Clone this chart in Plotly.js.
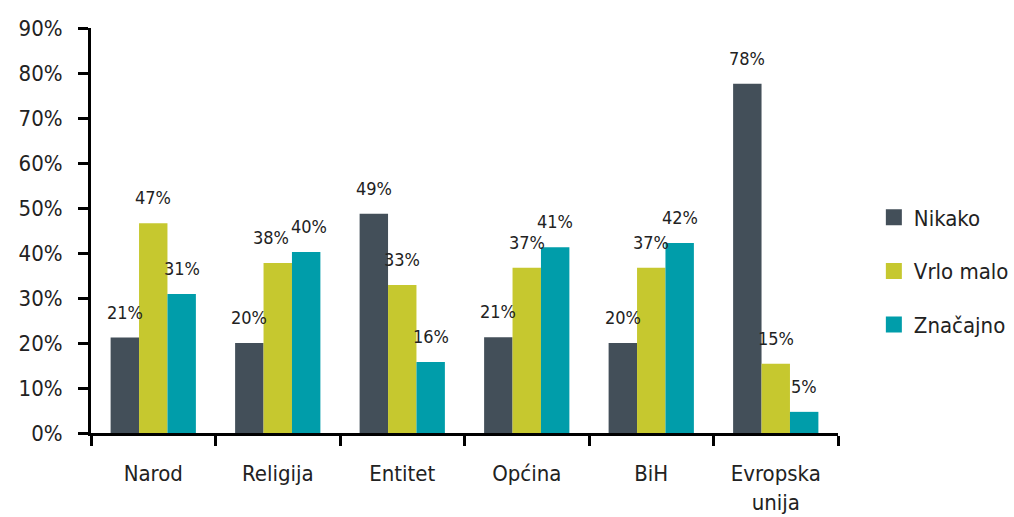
<!DOCTYPE html>
<html>
<head>
<meta charset="utf-8">
<script src="https://cdn.plot.ly/plotly-3.0.1.min.js"></script>
<style>
  html, body { margin: 0; padding: 0; background: #fff; }
  #chart { width: 1014px; height: 517px; }
</style>
</head>
<body>
<div id="chart"></div>
<script>
const categories = ["Narod", "Religija", "Entitet", "Općina", "BiH", "Evropska<br>unija"];
const seriesNames = ["Nikako", "Vrlo malo", "Značajno"];
const nikako = [21.2, 20.0, 48.7, 21.3, 20.0, 77.6];
const vrloMalo = [46.6, 37.8, 32.9, 36.7, 36.7, 15.4];
const znacajno = [30.9, 40.2, 15.8, 41.3, 42.2, 4.7];
const yTickVals = [0, 10, 20, 30, 40, 50, 60, 70, 80, 90];

const colors = ["#434F59", "#C6C82F", "#009DAA"];
const seriesValues = [nikako, vrloMalo, znacajno];
const FONT = '"Liberation Sans Narrow", "DejaVu Sans Condensed", "Roboto", sans-serif';

const margin = { l: 91, r: 176, t: 28, b: 84, autoexpand: false };
const plotW = 1014 - margin.l - margin.r;
const plotH = 517 - margin.t - margin.b;
const bargap = 0.315;
const barPx = plotW / categories.length * (1 - bargap) / seriesValues.length;
const pxPerUnit = plotH / 90;
const LABEL_H = 24;

const traces = [];
seriesValues.forEach((vals, i) => {
  traces.push({
    type: "bar",
    x: categories,
    y: vals,
    name: seriesNames[i],
    marker: { color: colors[i] },
    showlegend: false,
    hoverinfo: "skip"
  });
});
// legend entries with square swatches
seriesValues.forEach((vals, i) => {
  traces.push({
    type: "scatter",
    mode: "markers",
    x: [null],
    y: [null],
    name: seriesNames[i],
    legendgroup: "g" + i,
    marker: { color: colors[i], symbol: "square", size: 22 },
    showlegend: true
  });
});

// label placement: nudge neighbouring labels apart when they would collide
const annotations = [];
categories.forEach((c, j) => {
  const shifts = seriesValues.map(() => 0);
  for (let i = 0; i < seriesValues.length - 1; i++) {
    const dy = Math.abs(seriesValues[i][j] - seriesValues[i + 1][j]) * pxPerUnit;
    if (dy < LABEL_H - 10) { shifts[i] -= 7; shifts[i + 1] += 3; }
  }
  seriesValues.forEach((vals, i) => {
    const v = vals[j];
    annotations.push({
      x: c,
      y: v,
      xref: "x",
      yref: "y",
      text: Math.round(v) + "%",
      showarrow: false,
      xanchor: "center",
      yanchor: "bottom",
      borderpad: 0,
      xshift: (i - 1) * barPx + shifts[i],
      yshift: 14,
      font: { family: FONT, size: 18, color: "#222" }
    });
  });
});

const layout = {
  width: 1014,
  height: 517,
  margin: margin,
  paper_bgcolor: "#fff",
  plot_bgcolor: "#fff",
  font: { family: FONT, color: "#222", size: 22 },
  barmode: "group",
  bargap: bargap,
  bargroupgap: 0,
  xaxis: {
    type: "category",
    automargin: false,
    showline: true,
    linecolor: "#000",
    linewidth: 3,
    ticks: "outside",
    tickson: "boundaries",
    ticklen: 10,
    tickwidth: 3,
    tickcolor: "#000",
    showgrid: false,
    zeroline: false,
    ticklabelstandoff: 19,
    tickfont: { family: FONT, size: 22, color: "#222" }
  },
  yaxis: {
    range: [0, 90],
    automargin: false,
    tickvals: yTickVals,
    ticktext: yTickVals.map(v => v + "%"),
    showline: true,
    linecolor: "#000",
    linewidth: 3,
    ticks: "outside",
    ticklen: 10,
    tickwidth: 3,
    tickcolor: "#000",
    showgrid: false,
    zeroline: false,
    ticklabelstandoff: 11,
    tickfont: { family: FONT, size: 22, color: "#222" }
  },
  legend: {
    x: 1.048,
    xanchor: "left",
    y: 0.40,
    yanchor: "middle",
    tracegroupgap: 22,
    font: { family: FONT, size: 22, color: "#222" },
    bgcolor: "rgba(0,0,0,0)"
  },
  annotations: annotations,
  showlegend: true
};

Plotly.newPlot("chart", traces, layout, { displayModeBar: false, staticPlot: true });
</script>
</body>
</html>
